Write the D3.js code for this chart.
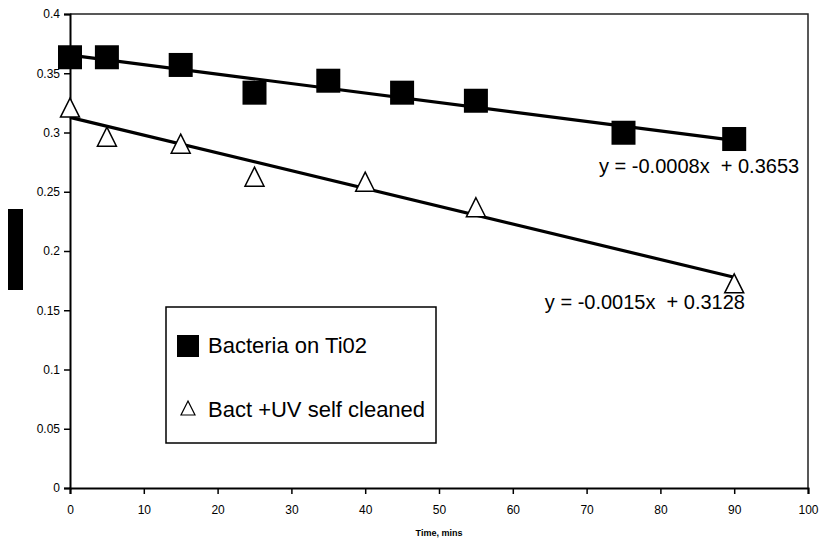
<!DOCTYPE html>
<html>
<head>
<meta charset="utf-8">
<script src="https://cdn.jsdelivr.net/npm/d3@7"></script>
<style>
  body { margin: 0; background: #fff; }
  text { font-family: "Liberation Sans", Arial, sans-serif; }
</style>
</head>
<body>
<div class="canvas"></div>
<script>
// data
const squareTimes = [0, 5, 15, 25, 35, 45, 55, 75, 90];
const squareValues = [0.3635, 0.3635, 0.357, 0.3336, 0.3437, 0.3336, 0.3268, 0.2998, 0.2945];
const triangleTimes = [0, 5, 15, 25, 40, 55, 90];
const triangleValues = [0.321, 0.2965, 0.2906, 0.2627, 0.2585, 0.2369, 0.1727];
const trendSlopes = [-0.0008, -0.0015];
const trendIntercepts = [0.3653, 0.3128];
const trendLabels = ['y = -0.0008x  + 0.3653', 'y = -0.0015x  + 0.3128'];
const seriesNames = ['Bacteria on Ti02', 'Bact +UV self cleaned'];
const xTicks = [0, 10, 20, 30, 40, 50, 60, 70, 80, 90, 100];
const yTicks = [0, 0.05, 0.1, 0.15, 0.2, 0.25, 0.3, 0.35, 0.4];

const svg = d3.select('.canvas')
    .append('svg')
    .attr('width', 822)
    .attr('height', 548);

const margin = { top: 14, right: 14, left: 70, bottom: 60 };
const graphWidth = 822 - margin.left - margin.right;
const graphHeight = 548 - margin.top - margin.bottom;

const graph = svg.append('g')
    .attr('transform', `translate(${margin.left}, ${margin.top})`);

const x = d3.scaleLinear().domain([0, 100]).range([0, graphWidth]);
const y = d3.scaleLinear().domain([0, 0.4]).range([graphHeight, 0]);

// frame (top + right)
graph.append('path')
    .attr('d', `M0,0H${graphWidth}V${graphHeight}`)
    .attr('fill', 'none')
    .attr('stroke', '#222')
    .attr('stroke-width', 1.5);

const xAxisGroup = graph.append('g')
    .attr('transform', `translate(0, ${graphHeight})`)
    .call(d3.axisBottom(x).tickValues(xTicks).tickSize(6).tickPadding(11));

const yAxisGroup = graph.append('g')
    .call(d3.axisLeft(y).tickValues(yTicks).tickSize(6).tickPadding(4)
        .tickFormat(d => d3.format('~g')(d)));

[xAxisGroup, yAxisGroup].forEach(g => {
    g.select('.domain').attr('stroke', '#000').attr('stroke-width', 2);
    g.selectAll('.tick line').attr('stroke', '#000').attr('stroke-width', 1.5);
    g.selectAll('text').attr('font-size', 12).attr('fill', '#000')
        .attr('font-family', '"Liberation Sans", Arial, sans-serif');
});

// trend lines
const lineGen = d3.line().x(d => x(d[0])).y(d => y(d[1]));
trendSlopes.forEach((m, i) => {
    const b = trendIntercepts[i];
    graph.append('path')
        .attr('d', lineGen([[0, b], [90, b + m * 90]]))
        .attr('fill', 'none')
        .attr('stroke', '#000')
        .attr('stroke-width', 3.2);
});

// square markers
graph.selectAll('rect.sq')
    .data(squareTimes)
    .enter()
    .append('rect')
    .attr('class', 'sq')
    .attr('x', d => x(d) - 12)
    .attr('y', (d, i) => y(squareValues[i]) - 12)
    .attr('width', 24)
    .attr('height', 24)
    .attr('fill', '#000');

// triangle markers
const tri = s => `M0,${-s / 2}L${s / 2},${s / 2}L${-s / 2},${s / 2}Z`;
graph.selectAll('path.tri')
    .data(triangleTimes)
    .enter()
    .append('path')
    .attr('class', 'tri')
    .attr('d', tri(19))
    .attr('transform', (d, i) => `translate(${x(d)}, ${y(triangleValues[i])})`)
    .attr('fill', '#fff')
    .attr('stroke', '#000')
    .attr('stroke-width', 1.5);

// equation labels
svg.append('text')
    .attr('x', 599).attr('y', 173)
    .attr('font-size', 20)
    .style('white-space', 'pre')
    .text(trendLabels[0]);
svg.append('text')
    .attr('x', 745).attr('y', 309)
    .attr('text-anchor', 'end')
    .attr('font-size', 20)
    .style('white-space', 'pre')
    .text(trendLabels[1]);

// legend
const legend = svg.append('g');
legend.append('rect')
    .attr('x', 166).attr('y', 307)
    .attr('width', 270).attr('height', 136)
    .attr('fill', '#fff')
    .attr('stroke', '#000')
    .attr('stroke-width', 1.5);
legend.append('rect')
    .attr('x', 177).attr('y', 335)
    .attr('width', 22).attr('height', 22)
    .attr('fill', '#000');
legend.append('path')
    .attr('d', tri(14))
    .attr('transform', 'translate(188, 408)')
    .attr('fill', '#fff')
    .attr('stroke', '#000')
    .attr('stroke-width', 1.2);
legend.selectAll('text')
    .data(seriesNames)
    .enter()
    .append('text')
    .attr('x', 208)
    .attr('y', (d, i) => 353 + i * 64)
    .attr('font-size', 22)
    .text(d => d);

// axis title
svg.append('text')
    .attr('x', margin.left + x(50))
    .attr('y', 536)
    .attr('text-anchor', 'middle')
    .attr('font-size', 9)
    .attr('font-weight', 'bold')
    .text('Time, mins');

// y axis label box (rendered as a solid block in the original)
svg.append('rect')
    .attr('x', 8).attr('y', 209)
    .attr('width', 15).attr('height', 81)
    .attr('fill', '#000');
</script>
</body>
</html>
